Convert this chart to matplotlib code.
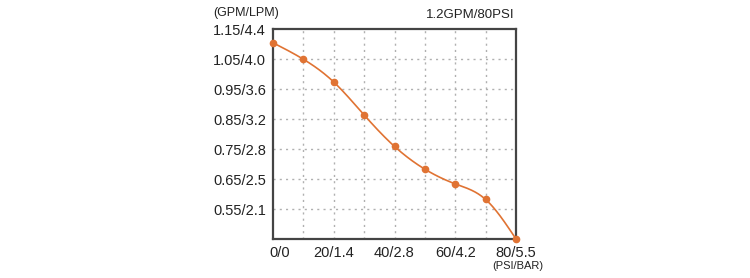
import numpy as np
import matplotlib
matplotlib.use("Agg")
import matplotlib.pyplot as plt
from matplotlib.transforms import ScaledTranslation

plt.rcParams['font.family'] = ['Liberation Sans', 'DejaVu Sans']

psi = [0, 10, 20, 30, 40, 50, 60, 70, 80]
gpm = [1.105, 1.05, 0.974, 0.864, 0.759, 0.683, 0.634, 0.582, 0.45]

y_ticks = [0.55, 0.65, 0.75, 0.85, 0.95, 1.05, 1.15]
y_labels = ["0.55/2.1", "0.65/2.5", "0.75/2.8", "0.85/3.2", "0.95/3.6", "1.05/4.0", "1.15/4.4"]
x_ticks = [0, 20, 40, 60, 80]
x_labels = ["0/0", "20/1.4", "40/2.8", "60/4.2", "80/5.5"]
x_grid = [10, 20, 30, 40, 50, 60, 70]

def natural_spline(x, y, n=400):
    x = np.asarray(x, float); y = np.asarray(y, float)
    k = len(x); h = np.diff(x)
    A = np.zeros((k, k)); b = np.zeros(k)
    A[0, 0] = 1; A[-1, -1] = 1
    for i in range(1, k - 1):
        A[i, i - 1] = h[i - 1]; A[i, i] = 2 * (h[i - 1] + h[i]); A[i, i + 1] = h[i]
        b[i] = 3 * ((y[i + 1] - y[i]) / h[i] - (y[i] - y[i - 1]) / h[i - 1])
    c = np.linalg.solve(A, b)
    xs = np.linspace(x[0], x[-1], n); ys = np.empty_like(xs)
    for j, xv in enumerate(xs):
        i = min(np.searchsorted(x, xv, side='right') - 1, k - 2)
        d = xv - x[i]
        bb = (y[i + 1] - y[i]) / h[i] - h[i] * (2 * c[i] + c[i + 1]) / 3
        dd = (c[i + 1] - c[i]) / (3 * h[i])
        ys[j] = y[i] + bb * d + c[i] * d ** 2 + dd * d ** 3
    return xs, ys

fig = plt.figure(figsize=(7.5, 2.78), dpi=100)
ax = fig.add_axes([273/750, 1 - 239/278, (516-273)/750, (239-29.3)/278])
ax.set_xlim(0, 80)
ax.set_ylim(0.45, 1.15)

for xv in x_grid:
    ax.axvline(xv, color='#b0b0b0', lw=1.0, ls=(0, (1.5, 3)), zorder=1)
for yv in y_ticks[:-1]:
    ax.axhline(yv, color='#b0b0b0', lw=1.0, ls=(0, (1.5, 3)), zorder=1)

xs, ys = natural_spline(psi, gpm)
ax.plot(xs, ys, color='#e07333', lw=1.2, zorder=3, clip_on=False)
ax.plot(psi, gpm, 'o', color='#e07333', ms=4.5, zorder=4, clip_on=False)

ax.set_xticks(x_ticks)
ax.set_xticklabels(x_labels, fontsize=10.5, color='#222222')
ax.set_yticks(y_ticks)
ax.set_yticklabels(y_labels, fontsize=10.5, color='#222222')
ax.tick_params(length=0, pad=5)
offs = ScaledTranslation(7/100, 0, fig.dpi_scale_trans)
lbl0 = ax.get_xticklabels()[0]
lbl0.set_transform(lbl0.get_transform() + offs)

for s in ax.spines.values():
    s.set_color('#444444'); s.set_linewidth(1.6)

fig.text(213/750, 1 - 13/278, "(GPM/LPM)", fontsize=9, va='center', ha='left', color='#222222')
fig.text(515/750, 1 - 15/278, "1.2GPM/80PSI", fontsize=9.5, va='center', ha='right', color='#222222')
fig.text(518/750, 1 - 266/278, "(PSI/BAR)", fontsize=8, va='center', ha='center', color='#222222')

fig.savefig("out.png", dpi=100)
